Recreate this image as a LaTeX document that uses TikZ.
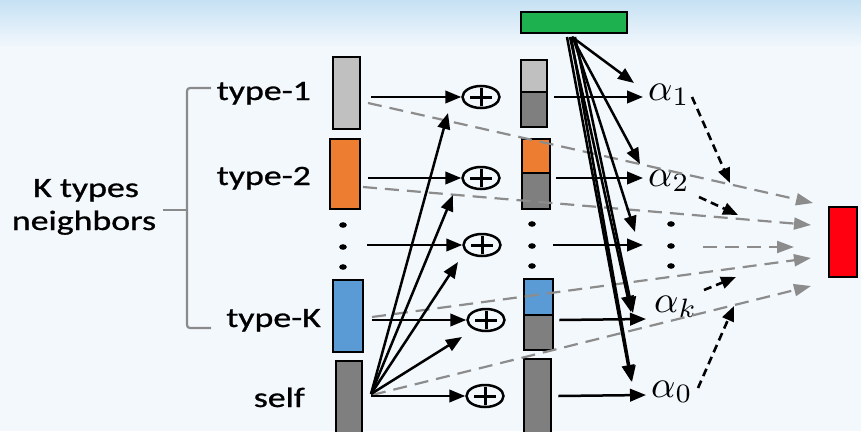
\documentclass[tikz,border=0pt]{standalone}
\usepackage[no-math]{fontspec}
\setmainfont{Carlito}
\newfontfamily\lblfont{Carlito}[FakeBold=0.8]
\usepackage{graphicx}
\usetikzlibrary{arrows.meta,shapes.geometric,calc}
\definecolor{lgray}{HTML}{C0C0C0}
\definecolor{dgray}{HTML}{7F7F7F}
\definecolor{orng}{HTML}{ED7D31}
\definecolor{blu}{HTML}{5B9BD5}
\definecolor{grn}{HTML}{1DB150}
\definecolor{rd}{HTML}{FF0010}
\definecolor{dashgray}{HTML}{8C8C8C}
\definecolor{brgray}{HTML}{8A8A8A}
\definecolor{bgwhite}{HTML}{F3F8FC}
\definecolor{bgblue}{HTML}{C6E1F4}
\newcommand{\alsym}[1]{\scalebox{3.8}{$\alpha_{#1}$}}
\tikzset{
  bar/.style={draw=black, line width=2.6pt, rectangle, inner sep=0pt},
  arr/.style={line width=2.5pt, -{Triangle[length=16pt,width=12.5pt]}},
  garr/.style={draw=dashgray, line width=2.2pt, dash pattern=on 14pt off 8pt, -{Triangle[length=17pt,width=12pt]}},
  darr/.style={line width=2.6pt, dash pattern=on 8pt off 5pt, -{Triangle[length=15pt,width=12pt]}},
  oplus/.style={ellipse, draw, line width=2.5pt, minimum width=37pt, minimum height=22pt, inner sep=0pt,
    path picture={
      \draw[line width=3pt] ([xshift=-11pt]path picture bounding box.center) -- ([xshift=11pt]path picture bounding box.center);
      \draw[line width=3pt] ([yshift=-9pt]path picture bounding box.center) -- ([yshift=9pt]path picture bounding box.center);
    }},
  lbl/.style={font=\lblfont\fontsize{28}{30}\selectfont, inner sep=0pt},
  alph/.style={inner sep=0pt},
}
\begin{document}
\begin{tikzpicture}[x=1pt,y=-1pt]
\useasboundingbox (0,0) rectangle (861,431);
% background
\fill[bgwhite] (0,0) rectangle (861,431);
\shade[top color=bgblue, bottom color=bgwhite] (0,0) rectangle (861,48);

% labels
\node[lbl, anchor=base] (kt) at (86,197) {\scalebox{1.28}[1]{K types}};
\node[lbl, anchor=base] (kn) at (84,230) {\scalebox{1.28}[1]{neighbors}};
\node[lbl, anchor=base east] (t1) at (311,100) {\scalebox{1.28}[1]{type-1}};
\node[lbl, anchor=base east] (t2) at (311,185) {\scalebox{1.28}[1]{type-2}};
\node[lbl, anchor=base east] (tk) at (321,327) {\scalebox{1.28}[1]{type-K}};
\node[lbl, anchor=base east] (ts) at (305,407) {\scalebox{1.28}[1]{self}};

% bracket
\draw[brgray, line width=2.2pt, rounded corners=3pt] (211,88) -- (187,88) -- (187,328) -- (211,328);
\draw[brgray, line width=2.2pt] (187,210) -- (163,210);

% left column bars
\node[bar, fill=lgray, minimum width=27pt, minimum height=72pt] (l1) at (346.5,93) {};
\node[bar, fill=orng, minimum width=30pt, minimum height=70pt] (l2) at (345,174) {};
\node[bar, fill=blu, minimum width=30pt, minimum height=72pt] (lk) at (348,316) {};
\node[bar, fill=dgray, minimum width=26pt, minimum height=80pt] (ls) at (349,401) {};
\foreach \yy in {225,247,267} \fill (343,\yy) ellipse (3.8pt and 2.8pt);

% oplus nodes
\node[oplus] (p1) at (481,97) {};
\node[oplus] (p2) at (481,178) {};
\node[oplus] (p3) at (482,245) {};
\node[oplus] (pk) at (486,320) {};
\node[oplus] (ps) at (485,396) {};

% middle bars
\node[bar, fill=lgray, minimum width=26pt, minimum height=32pt] (m1t) at (534,76) {};
\node[bar, fill=dgray, minimum width=26pt, minimum height=35pt] (m1) at (534,109.5) {};
\node[bar, fill=orng, minimum width=28pt, minimum height=34pt] (m2t) at (536,156) {};
\node[bar, fill=dgray, minimum width=28pt, minimum height=36pt] (m2) at (536,191) {};
\node[bar, fill=blu, minimum width=29pt, minimum height=36pt] (mkt) at (538.5,297) {};
\node[bar, fill=dgray, minimum width=29pt, minimum height=35pt] (mk) at (538.5,332.5) {};
\node[bar, fill=dgray, minimum width=27pt, minimum height=80pt] (ms) at (537.5,399) {};
\foreach \yy in {224,246,266} \fill (532,\yy) ellipse (3.8pt and 2.8pt);

% green and red bars
\node[bar, fill=grn, minimum width=106pt, minimum height=21pt] (g) at (574,22.5) {};
\node[bar, fill=rd, minimum width=28pt, minimum height=70pt] (r) at (843,242) {};

% alpha nodes
\node[alph, anchor=base west] (a1) at (648,100) {\alsym{1}};
\node[alph, anchor=base west] (a2) at (648,186) {\alsym{2}};
\node[alph, anchor=base west] (ak) at (654,312) {\alsym{k}};
\node[alph, anchor=base west] (a0) at (651,397) {\alsym{0}};
\foreach \yy in {224,246,266} \fill (671,\yy) ellipse (3.8pt and 2.8pt);

% gray dashed arrows to red bar
\coordinate (g1s) at (368,103); \coordinate (g1e) at (813,203);
\coordinate (g2s) at (363,187); \coordinate (g2e) at (811,225);
\coordinate (g3s) at (703,247); \coordinate (g3e) at (794,247);
\coordinate (g4s) at (372,317); \coordinate (g4e) at (811,258);
\coordinate (g5s) at (372,395); \coordinate (g5e) at (811,286);
\draw[garr] (g1s) -- (g1e);
\draw[garr] (g2s) -- (g2e);
\draw[garr] (g3s) -- (g3e);
\draw[garr] (g4s) -- (g4e);
\draw[garr] (g5s) -- (g5e);

% left bars -> oplus
\draw[arr] ([xshift=10pt]l1.east |- p1) -- (p1.west);
\draw[arr] ([xshift=7pt]l2.east |- p2) -- (p2.west);
\draw[arr] (367,245) -- (p3.west);
\draw[arr] ([xshift=8pt]lk.east |- pk) -- (pk.west);
\draw[arr] ([xshift=8pt]ls.east |- ps) -- (ps.west);

% self fan
\coordinate (so) at (371,394);
\draw[arr] (so) -- (448,113);
\draw[arr] (so) -- (453,195);
\draw[arr] (so) -- (458,262);
\draw[arr] (so) -- (462,337);

% middle bars -> alphas
\draw[arr] ([xshift=6pt]m1.east |- p1) -- (643,97);
\draw[arr] ([xshift=5pt]m2.east |- p2) -- (643,178);
\draw[arr] (553,245) -- (643,245);
\draw[arr] ([xshift=5pt]mk.east |- pk) -- (646,319);
\draw[arr] ([xshift=6pt]ms.east |- ps) -- (646,395);

% green fan
\draw[arr] (572,37) -- (634,83);
\draw[arr] (572,37) -- (640,164);
\draw[arr] (573,37) -- (635,232);
\draw[arr] (575,37) -- (633,313);
\draw[arr] (570,37) -- (631,312);
\draw[arr] (571,37) -- (632,382);
\draw[arr] (567,37) -- (631,381);

% black dashed arrows from alphas
\draw[darr] (692,97) -- (730,183);
\draw[darr] (699,197) -- (738,215);
\draw[darr] (704,290) -- (736,277);
\draw[darr] (698,388) -- (734,306);
\end{tikzpicture}
\end{document}
